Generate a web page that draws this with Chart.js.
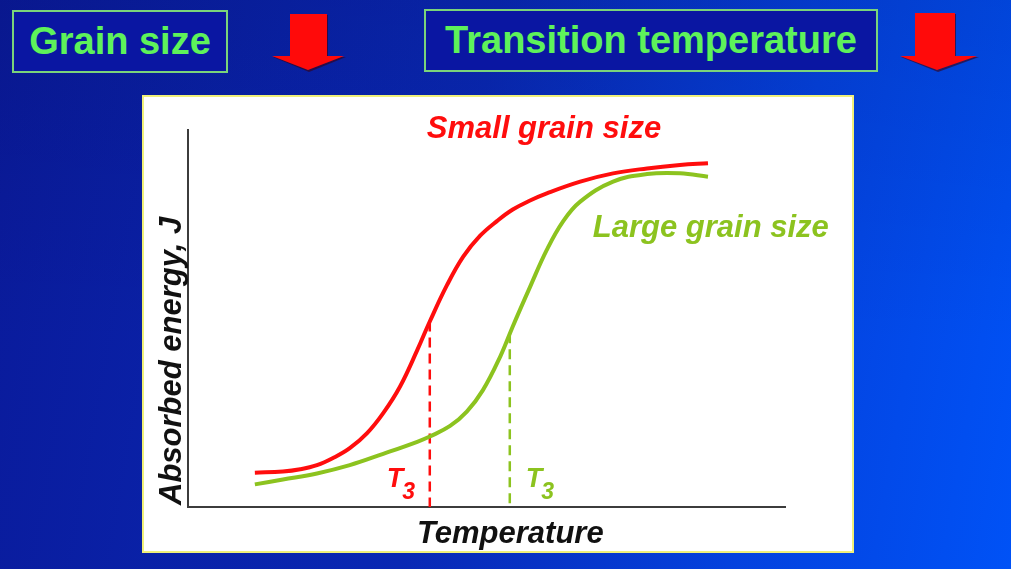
<!DOCTYPE html>
<html>
<head>
<meta charset="utf-8">
<script src="https://cdn.jsdelivr.net/npm/chart.js@4.4.1/dist/chart.umd.min.js"></script>
<style>
  html, body { margin: 0; padding: 0; }
  body {
    width: 1011px; height: 569px; overflow: hidden; position: relative;
    background:
      linear-gradient(to bottom, rgba(0,0,40,0.10), rgba(0,0,0,0) 60%),
      linear-gradient(100deg, #0a1a9a 0%, #0928b4 45%, #0442de 75%, #0052f6 100%);
    font-family: "Liberation Sans", Arial, sans-serif;
  }
  .box {
    position: absolute; box-sizing: border-box;
    border: 2px solid #7ad47a; background: #0a16a2;
    color: #5ef25a; font-weight: bold; font-size: 38px;
    line-height: 58px; text-align: center; white-space: nowrap;
  }
  #arrows { position: absolute; left: 0; top: 0; }
  #panel {
    position: absolute; left: 142px; top: 95px;
    width: 708px; height: 454px;
    border: 2px solid #f0f07a; background: #fff;
  }
</style>
</head>
<body>
<div class="box" style="left:12px; top:10px; width:216px; height:63px;">Grain size</div>
<div class="box" style="left:424px; top:9px; width:454px; height:63px;">Transition temperature</div>
<svg id="arrows" width="1011" height="100">
  <polygon points="291,15 328,15 328,57 346,57 309,72 273,57 291,57" fill="#3a0010" opacity="0.6"/>
  <polygon points="290,14 327,14 327,56 344,56 308,70 272,56 290,56" fill="#ff0a0a"/>
  <polygon points="916,14 956,14 956,57 979,57 938,72 901,57 916,57" fill="#3a0010" opacity="0.6"/>
  <polygon points="915,13 955,13 955,56 977,56 937,70 900,56 915,56" fill="#ff0a0a"/>
</svg>
<div id="panel"><canvas id="c" width="708" height="454"></canvas></div>

<script>
// curve readings, temperature 0-100 along the axis, energy 0-100 up the axis
const smallX = [11.2, 15.9, 18.8, 21.6, 24.3, 27.1, 30.0, 32.7, 35.5, 38.4, 40.5, 43.4, 46.1, 48.9, 51.8, 54.4, 57.3, 60.1, 65.7, 71.2, 76.9, 82.4, 87.1];
const smallY = [9.1, 9.4, 10.0, 11.1, 13.0, 15.6, 19.6, 24.9, 31.9, 41.6, 49.2, 58.9, 66.4, 71.9, 75.9, 78.9, 81.3, 83.2, 86.3, 88.5, 89.8, 90.7, 91.2];

const largeX = [11.2, 15.9, 21.6, 27.1, 32.7, 38.4, 40.5, 43.9, 46.7, 49.4, 52.3, 54.4, 57.3, 60.1, 62.8, 65.7, 71.2, 76.9, 82.4, 87.1];
const largeY = [6.0, 7.3, 8.9, 11.1, 14.1, 17.3, 18.7, 21.5, 25.3, 31.0, 39.9, 47.9, 58.4, 68.2, 75.7, 81.0, 86.3, 88.3, 88.5, 87.6];

// T3 markers (curve point down to the axis)
const t3SmallX = [40.5, 40.5];
const t3SmallY = [49.2, 0];
const t3LargeX = [53.9, 53.9];
const t3LargeY = [46.1, 0];

const seriesNames = ['Small grain size', 'Large grain size'];
const axisTitles = ['Temperature', 'Absorbed energy, J'];
const markerText = ['T', '3'];

const RED = '#ff0d0d';
const GREEN = '#8cc31f';

function pts(xs, ys) {
  return xs.map((v, i) => ({ x: v, y: ys[i] }));
}

function biFont(px) {
  return 'italic bold ' + px + 'px "Liberation Sans", Arial, sans-serif';
}

const slideText = {
  id: 'slideText',
  afterDraw(chart) {
    const { ctx, chartArea: a, scales: { x, y } } = chart;
    ctx.save();
    ctx.textAlign = 'left';
    ctx.textBaseline = 'alphabetic';

    // series names
    ctx.font = biFont(31);
    ctx.fillStyle = RED;
    ctx.fillText(seriesNames[0], x.getPixelForValue(40.0), y.getPixelForValue(98.0));
    ctx.fillStyle = GREEN;
    ctx.fillText(seriesNames[1], x.getPixelForValue(67.8), y.getPixelForValue(71.6));

    // T3 labels beside the dashed lines
    const base = a.bottom - 20;
    function t3(px, color) {
      ctx.fillStyle = color;
      ctx.font = biFont(27);
      ctx.fillText(markerText[0], px, base);
      const w = ctx.measureText(markerText[0]).width;
      ctx.font = biFont(23);
      ctx.fillText(markerText[1], px + w - 1, base + 12);
    }
    t3(x.getPixelForValue(t3SmallX[0]) - 43, RED);
    t3(x.getPixelForValue(t3LargeX[0]) + 16, GREEN);

    // axis titles
    ctx.fillStyle = '#111';
    ctx.font = biFont(31);
    ctx.fillText(axisTitles[0], a.left + 229, a.bottom + 36);

    ctx.translate(a.left - 7, a.bottom - 2);
    ctx.rotate(-Math.PI / 2);
    ctx.fillText(axisTitles[1], 0, 0);
    ctx.restore();
  }
};

new Chart(document.getElementById('c'), {
  type: 'line',
  data: {
    datasets: [
      {
        label: seriesNames[0],
        data: pts(smallX, smallY),
        borderColor: RED,
        borderWidth: 4,
        tension: 0.4,
        borderCapStyle: 'butt',
        pointRadius: 0,
        fill: false
      },
      {
        label: seriesNames[1],
        data: pts(largeX, largeY),
        borderColor: GREEN,
        borderWidth: 4,
        tension: 0.4,
        borderCapStyle: 'butt',
        pointRadius: 0,
        fill: false
      },
      {
        label: 'T3 small',
        data: pts(t3SmallX, t3SmallY),
        borderColor: RED,
        borderWidth: 2.5,
        borderDash: [10, 6],
        pointRadius: 0,
        tension: 0
      },
      {
        label: 'T3 large',
        data: pts(t3LargeX, t3LargeY),
        borderColor: GREEN,
        borderWidth: 2.5,
        borderDash: [10, 6],
        pointRadius: 0,
        tension: 0
      }
    ]
  },
  options: {
    responsive: false,
    animation: false,
    layout: { padding: { left: 44, right: 67, top: 33, bottom: 44 } },
    plugins: {
      legend: { display: false },
      tooltip: { enabled: false }
    },
    scales: {
      x: {
        type: 'linear', min: 0, max: 100,
        grid: { display: false },
        ticks: { display: false },
        border: { display: true, color: '#3c3c3c', width: 2 },
        afterFit(s) { s.height = 0; }
      },
      y: {
        type: 'linear', min: 0, max: 100,
        grid: { display: false },
        ticks: { display: false },
        border: { display: true, color: '#3c3c3c', width: 2 },
        afterFit(s) { s.width = 0; }
      }
    }
  },
  plugins: [slideText]
});
</script>
</body>
</html>
